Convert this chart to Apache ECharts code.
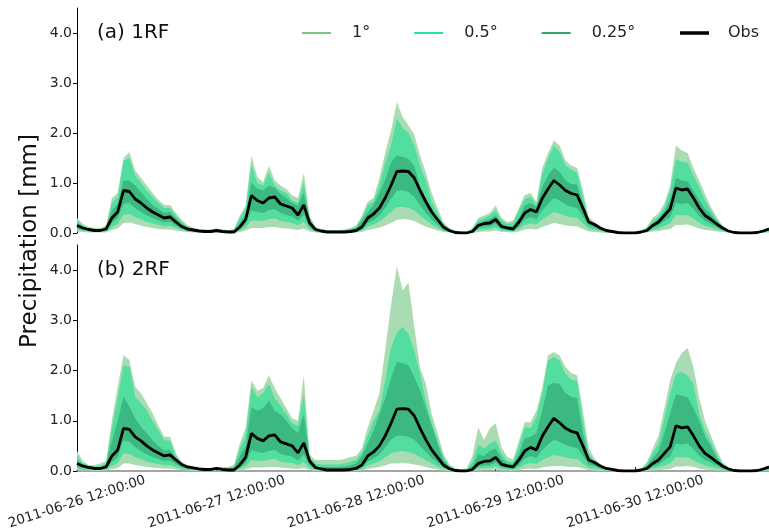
<!DOCTYPE html>
<html>
<head>
<meta charset="utf-8">
<script src="https://cdn.jsdelivr.net/npm/echarts@6/dist/echarts.min.js"></script>
<style>
    html, body { margin: 0; padding: 0; background: #fff; }
    #main { width: 769px; height: 528px; }
</style>
</head>
<body>
<div id="main"></div>
<script>
// hourly values starting 2011-06-26 12:00
var tickLabels = ['2011-06-26 12:00:00', '2011-06-27 12:00:00', '2011-06-28 12:00:00', '2011-06-29 12:00:00', '2011-06-30 12:00:00'];

var obs = [
    0.15,0.10,0.07,0.05,0.05,0.08,0.30,0.42,0.85,0.83,0.68,0.60,0.50,0.42,0.36,0.30,0.32,0.22,0.13,0.08,0.06,0.04,0.03,0.03,
    0.05,0.03,0.02,0.02,0.12,0.27,0.75,0.65,0.60,0.70,0.72,0.58,0.54,0.50,0.36,0.56,0.20,0.07,0.04,0.02,0.02,0.02,0.02,0.03,
    0.05,0.12,0.30,0.38,0.50,0.70,0.95,1.23,1.24,1.23,1.10,0.85,0.62,0.42,0.27,0.12,0.05,0.01,0.00,0.00,0.03,0.15,0.19,0.20,
    0.27,0.13,0.10,0.08,0.22,0.40,0.47,0.42,0.69,0.88,1.05,0.96,0.85,0.79,0.76,0.50,0.22,0.17,0.10,0.05,0.03,0.01,0.00,0.00,
    0.00,0.02,0.05,0.15,0.22,0.35,0.48,0.90,0.86,0.88,0.70,0.50,0.35,0.27,0.18,0.10,0.04,0.01,0.00,0.00,0.00,0.01,0.04,0.08
];

// (a) 1RF ranges
var rf1OuterHi = [
    0.30,0.18,0.12,0.10,0.10,0.15,0.70,0.80,1.50,1.62,1.25,1.10,0.95,0.80,0.66,0.56,0.56,0.40,0.26,0.16,0.10,0.08,0.07,0.07,
    0.09,0.07,0.06,0.08,0.35,0.55,1.55,1.12,1.02,1.34,1.05,0.95,0.88,0.75,0.70,1.20,0.35,0.12,0.08,0.06,0.06,0.06,0.07,0.10,
    0.15,0.35,0.63,0.70,1.10,1.60,2.05,2.62,2.32,2.15,1.97,1.55,1.20,0.80,0.50,0.22,0.10,0.05,0.03,0.03,0.10,0.30,0.35,0.40,
    0.55,0.30,0.22,0.25,0.50,0.76,0.80,0.62,1.30,1.60,1.85,1.75,1.45,1.35,1.30,0.85,0.32,0.22,0.12,0.07,0.05,0.03,0.02,0.02,
    0.02,0.05,0.12,0.30,0.40,0.59,0.95,1.75,1.65,1.60,1.30,1.05,0.78,0.52,0.32,0.15,0.06,0.03,0.02,0.02,0.02,0.03,0.07,0.12
];
var rf1MidHi = [
    0.25,0.15,0.10,0.08,0.08,0.12,0.60,0.72,1.45,1.50,1.15,1.00,0.85,0.72,0.60,0.50,0.50,0.35,0.22,0.13,0.08,0.06,0.05,0.05,
    0.07,0.05,0.05,0.06,0.30,0.48,1.35,1.00,0.95,1.20,0.95,0.85,0.80,0.65,0.60,1.00,0.30,0.10,0.06,0.05,0.05,0.05,0.06,0.08,
    0.12,0.30,0.56,0.63,0.95,1.40,1.76,2.29,2.10,2.00,1.76,1.34,1.05,0.63,0.40,0.18,0.08,0.04,0.02,0.02,0.08,0.25,0.30,0.35,
    0.45,0.25,0.18,0.20,0.45,0.68,0.72,0.56,1.18,1.48,1.75,1.62,1.35,1.27,1.20,0.72,0.26,0.18,0.10,0.06,0.04,0.02,0.01,0.01,
    0.01,0.04,0.10,0.25,0.33,0.50,0.85,1.48,1.42,1.41,1.15,0.93,0.65,0.45,0.27,0.12,0.05,0.02,0.01,0.01,0.01,0.02,0.06,0.10
];
var rf1InnerHi = [
    0.20,0.12,0.08,0.06,0.06,0.10,0.45,0.58,1.05,1.05,0.95,0.82,0.68,0.56,0.48,0.40,0.42,0.30,0.18,0.11,0.07,0.05,0.04,0.04,
    0.06,0.04,0.03,0.04,0.20,0.38,1.00,0.88,0.85,0.95,0.90,0.78,0.70,0.60,0.55,0.80,0.25,0.09,0.05,0.03,0.03,0.03,0.04,0.06,
    0.09,0.25,0.42,0.56,0.80,1.06,1.41,1.55,1.52,1.48,1.34,0.92,0.70,0.50,0.30,0.14,0.06,0.02,0.01,0.01,0.06,0.20,0.24,0.28,
    0.35,0.18,0.14,0.13,0.30,0.55,0.60,0.52,0.92,1.15,1.31,1.22,1.05,0.98,0.97,0.58,0.24,0.16,0.09,0.05,0.03,0.01,0.00,0.00,
    0.00,0.03,0.07,0.18,0.28,0.43,0.66,1.10,1.05,1.03,0.85,0.66,0.48,0.37,0.24,0.13,0.05,0.02,0.00,0.00,0.00,0.01,0.05,0.09
];
var rf1InnerLo = [
    0.10,0.07,0.05,0.03,0.03,0.05,0.20,0.30,0.58,0.60,0.50,0.42,0.35,0.30,0.25,0.21,0.22,0.15,0.09,0.05,0.04,0.03,0.02,0.02,
    0.03,0.02,0.01,0.01,0.08,0.18,0.45,0.42,0.40,0.46,0.48,0.40,0.36,0.33,0.25,0.36,0.13,0.04,0.02,0.01,0.01,0.01,0.01,0.02,
    0.03,0.08,0.20,0.26,0.35,0.50,0.68,0.85,0.85,0.82,0.72,0.55,0.40,0.27,0.17,0.07,0.03,0.00,0.00,0.00,0.02,0.10,0.12,0.13,
    0.18,0.08,0.06,0.05,0.13,0.27,0.32,0.28,0.45,0.58,0.70,0.65,0.57,0.52,0.50,0.32,0.14,0.11,0.06,0.03,0.02,0.00,0.00,0.00,
    0.00,0.01,0.03,0.10,0.15,0.24,0.32,0.60,0.58,0.60,0.48,0.34,0.24,0.18,0.12,0.07,0.03,0.01,0.00,0.00,0.00,0.00,0.03,0.05
];
var rf1MidLo = [
    0.06,0.04,0.03,0.02,0.02,0.03,0.12,0.18,0.36,0.38,0.32,0.27,0.22,0.19,0.16,0.13,0.14,0.10,0.06,0.03,0.02,0.02,0.01,0.01,
    0.02,0.01,0.01,0.01,0.05,0.11,0.25,0.25,0.24,0.28,0.29,0.24,0.22,0.20,0.15,0.22,0.08,0.03,0.01,0.01,0.01,0.01,0.01,0.01,
    0.02,0.05,0.13,0.17,0.23,0.32,0.42,0.52,0.52,0.50,0.45,0.35,0.26,0.17,0.10,0.04,0.02,0.00,0.00,0.00,0.01,0.06,0.07,0.08,
    0.11,0.05,0.04,0.03,0.08,0.16,0.19,0.17,0.27,0.35,0.42,0.39,0.34,0.31,0.30,0.19,0.08,0.06,0.04,0.02,0.01,0.00,0.00,0.00,
    0.00,0.01,0.02,0.06,0.09,0.14,0.19,0.36,0.35,0.36,0.29,0.20,0.14,0.11,0.07,0.04,0.02,0.00,0.00,0.00,0.00,0.00,0.01,0.03
];
var rf1OuterLo = [
    0.03,0.02,0.01,0.01,0.01,0.01,0.06,0.09,0.20,0.21,0.18,0.15,0.12,0.10,0.08,0.07,0.07,0.05,0.03,0.02,0.01,0.01,0.00,0.00,
    0.01,0.00,0.00,0.00,0.02,0.05,0.10,0.10,0.10,0.12,0.12,0.10,0.09,0.08,0.06,0.09,0.03,0.01,0.00,0.00,0.00,0.00,0.00,0.00,
    0.01,0.02,0.06,0.08,0.11,0.15,0.20,0.26,0.28,0.27,0.24,0.18,0.13,0.09,0.05,0.02,0.01,0.00,0.00,0.00,0.00,0.02,0.03,0.03,
    0.05,0.02,0.02,0.01,0.03,0.07,0.08,0.07,0.12,0.16,0.20,0.18,0.15,0.14,0.13,0.08,0.03,0.02,0.01,0.00,0.00,0.00,0.00,0.00,
    0.00,0.00,0.01,0.03,0.04,0.06,0.08,0.16,0.16,0.17,0.13,0.09,0.06,0.05,0.03,0.02,0.01,0.00,0.00,0.00,0.00,0.00,0.00,0.01
];

// (b) 2RF ranges
var rf2OuterHi = [
    0.40,0.20,0.12,0.12,0.15,0.20,1.01,1.68,2.31,2.21,1.68,1.55,1.35,1.15,0.90,0.68,0.68,0.35,0.18,0.12,0.08,0.06,0.05,0.05,
    0.08,0.08,0.08,0.12,0.55,0.85,1.80,1.60,1.65,1.90,1.65,1.45,1.25,1.05,1.00,1.90,0.33,0.22,0.22,0.22,0.22,0.22,0.24,0.28,
    0.30,0.45,0.87,1.20,1.55,2.40,3.30,4.07,3.60,3.75,2.87,2.05,1.73,1.13,0.75,0.35,0.14,0.06,0.03,0.05,0.30,0.87,0.62,0.85,
    0.95,0.47,0.28,0.23,0.60,0.97,0.97,1.20,1.65,2.30,2.37,2.30,2.07,1.95,1.90,1.20,0.45,0.25,0.12,0.07,0.04,0.02,0.01,0.01,
    0.01,0.05,0.18,0.45,0.70,1.25,1.80,2.15,2.35,2.45,2.07,1.45,1.00,0.70,0.42,0.18,0.08,0.04,0.02,0.02,0.02,0.03,0.07,0.12
];
var rf2MidHi = [
    0.30,0.15,0.10,0.09,0.10,0.15,0.85,1.45,2.10,2.08,1.48,1.35,1.21,1.00,0.80,0.61,0.60,0.30,0.15,0.10,0.07,0.05,0.04,0.04,
    0.06,0.06,0.06,0.09,0.45,0.70,1.67,1.47,1.55,1.73,1.45,1.30,1.13,0.95,0.90,1.53,0.27,0.15,0.13,0.13,0.13,0.13,0.15,0.18,
    0.22,0.38,0.70,1.00,1.20,1.80,2.45,2.75,2.87,2.73,2.40,1.93,1.40,0.95,0.62,0.28,0.10,0.04,0.02,0.03,0.18,0.53,0.45,0.55,
    0.60,0.35,0.20,0.18,0.50,0.87,0.85,1.07,1.55,2.20,2.27,2.20,1.93,1.82,1.78,1.00,0.35,0.20,0.10,0.05,0.03,0.01,0.00,0.00,
    0.01,0.04,0.14,0.35,0.55,1.05,1.55,1.93,1.97,1.90,1.73,1.13,0.80,0.58,0.33,0.14,0.06,0.03,0.01,0.01,0.01,0.02,0.06,0.10
];
var rf2InnerHi = [
    0.22,0.12,0.08,0.07,0.08,0.12,0.60,1.00,1.48,1.28,1.05,0.88,0.75,0.61,0.50,0.41,0.42,0.26,0.14,0.09,0.06,0.04,0.03,0.03,
    0.04,0.04,0.04,0.06,0.30,0.50,1.27,1.20,1.25,1.40,1.20,1.13,1.00,0.85,0.75,1.13,0.20,0.09,0.08,0.08,0.08,0.08,0.09,0.11,
    0.15,0.30,0.55,0.80,1.13,1.45,1.85,2.17,2.15,2.10,1.87,1.60,1.25,0.90,0.55,0.22,0.08,0.03,0.01,0.02,0.10,0.33,0.30,0.40,
    0.45,0.25,0.15,0.13,0.35,0.65,0.68,0.75,1.20,1.70,1.75,1.73,1.55,1.48,1.45,0.75,0.28,0.16,0.08,0.04,0.02,0.01,0.00,0.00,
    0.00,0.03,0.10,0.25,0.40,0.75,1.15,1.53,1.50,1.47,1.25,1.00,0.68,0.50,0.28,0.12,0.05,0.02,0.00,0.00,0.00,0.01,0.05,0.09
];
var rf2InnerLo = [
    0.09,0.06,0.04,0.03,0.03,0.05,0.18,0.28,0.61,0.58,0.48,0.40,0.33,0.28,0.24,0.20,0.21,0.14,0.08,0.05,0.03,0.02,0.02,0.02,
    0.03,0.02,0.01,0.01,0.07,0.16,0.42,0.38,0.36,0.40,0.42,0.34,0.31,0.29,0.21,0.33,0.12,0.04,0.02,0.01,0.01,0.01,0.01,0.02,
    0.03,0.08,0.19,0.25,0.33,0.47,0.62,0.70,0.70,0.68,0.62,0.50,0.38,0.26,0.17,0.07,0.03,0.00,0.00,0.00,0.02,0.09,0.11,0.12,
    0.17,0.08,0.06,0.05,0.12,0.25,0.30,0.26,0.42,0.53,0.62,0.58,0.52,0.48,0.46,0.30,0.13,0.10,0.06,0.03,0.02,0.00,0.00,0.00,
    0.00,0.01,0.03,0.09,0.13,0.22,0.29,0.55,0.53,0.55,0.44,0.31,0.22,0.17,0.11,0.06,0.02,0.00,0.00,0.00,0.00,0.00,0.02,0.05
];
var rf2MidLo = [
    0.05,0.03,0.02,0.02,0.02,0.03,0.10,0.16,0.35,0.34,0.28,0.24,0.19,0.16,0.14,0.11,0.12,0.08,0.04,0.02,0.02,0.01,0.01,0.01,
    0.02,0.01,0.00,0.00,0.04,0.09,0.22,0.21,0.20,0.23,0.24,0.19,0.17,0.16,0.12,0.18,0.06,0.02,0.01,0.00,0.00,0.00,0.00,0.01,
    0.02,0.04,0.11,0.15,0.19,0.27,0.36,0.38,0.40,0.38,0.34,0.28,0.22,0.15,0.09,0.04,0.01,0.00,0.00,0.00,0.01,0.05,0.06,0.06,
    0.09,0.04,0.03,0.02,0.06,0.13,0.16,0.14,0.22,0.27,0.32,0.30,0.27,0.25,0.24,0.15,0.06,0.05,0.03,0.01,0.01,0.00,0.00,0.00,
    0.00,0.00,0.02,0.05,0.07,0.11,0.15,0.28,0.27,0.28,0.22,0.16,0.11,0.08,0.05,0.03,0.01,0.00,0.00,0.00,0.00,0.00,0.01,0.02
];
var rf2OuterLo = [
    0.02,0.01,0.01,0.00,0.00,0.01,0.04,0.06,0.15,0.15,0.12,0.10,0.08,0.07,0.06,0.05,0.05,0.03,0.02,0.01,0.00,0.00,0.00,0.00,
    0.01,0.00,0.00,0.00,0.01,0.03,0.07,0.07,0.07,0.08,0.08,0.07,0.06,0.05,0.04,0.06,0.02,0.00,0.00,0.00,0.00,0.00,0.00,0.00,
    0.00,0.01,0.04,0.06,0.08,0.11,0.15,0.15,0.16,0.15,0.13,0.11,0.08,0.05,0.03,0.01,0.00,0.00,0.00,0.00,0.00,0.01,0.02,0.02,
    0.03,0.01,0.01,0.00,0.02,0.04,0.05,0.04,0.07,0.09,0.10,0.10,0.09,0.08,0.08,0.05,0.02,0.01,0.00,0.00,0.00,0.00,0.00,0.00,
    0.00,0.00,0.00,0.01,0.02,0.03,0.04,0.09,0.09,0.10,0.08,0.05,0.03,0.02,0.01,0.01,0.00,0.00,0.00,0.00,0.00,0.00,0.00,0.00
];

var font = '"DejaVu Sans", sans-serif';
var bandColors = { outer: '#a9dcb2', mid: '#53de9f', inner: '#3cb881' };

// one category per hour, label shown every 24 h
var hours = obs.map(function (v, i) { return i; });

var chart = echarts.init(document.getElementById('main'));

function band(name, lo, hi, color, idx) {
    var stack = name + '_' + idx;
    var common = {
        name: name,
        type: 'line',
        xAxisIndex: idx,
        yAxisIndex: idx,
        stack: stack,
        symbol: 'none',
        silent: true,
        lineStyle: { opacity: 0 }
    };
    return [
        Object.assign({}, common, { data: lo }),
        Object.assign({}, common, {
            data: hi.map(function (v, i) { return Math.max(0, v - lo[i]); }),
            areaStyle: { color: color, opacity: 1 }
        })
    ];
}

function obsLine(idx) {
    return {
        name: 'Obs',
        type: 'line',
        xAxisIndex: idx,
        yAxisIndex: idx,
        symbol: 'none',
        silent: true,
        z: 5,
        data: obs,
        lineStyle: { color: '#000', width: 2.8 }
    };
}

function yAxis(idx) {
    return {
        type: 'value',
        gridIndex: idx,
        min: 0,
        max: 4.5,
        interval: 1,
        axisLine: { show: true, lineStyle: { color: '#000', width: 1 } },
        axisTick: { show: true, length: 4, customValues: [0, 1, 2, 3, 4], lineStyle: { color: '#000' } },
        axisLabel: {
            customValues: [0, 1, 2, 3, 4],
            formatter: function (v) { return v.toFixed(1); },
            fontFamily: font, fontSize: 14, color: '#222', margin: 5
        },
        splitLine: { show: false }
    };
}

function everyDay(i) { return i % 24 === 0; }

var series = [];
series = series.concat(band('1°', rf1OuterLo, rf1OuterHi, bandColors.outer, 0));
series = series.concat(band('0.5°', rf1MidLo, rf1MidHi, bandColors.mid, 0));
series = series.concat(band('0.25°', rf1InnerLo, rf1InnerHi, bandColors.inner, 0));
series.push(obsLine(0));
series = series.concat(band('1°', rf2OuterLo, rf2OuterHi, bandColors.outer, 1));
series = series.concat(band('0.5°', rf2MidLo, rf2MidHi, bandColors.mid, 1));
series = series.concat(band('0.25°', rf2InnerLo, rf2InnerHi, bandColors.inner, 1));
series.push(obsLine(1));

var option = {
    animation: false,
    backgroundColor: '#fff',
    grid: [
        { left: 77, right: 0, top: 8, height: 225, outerBoundsMode: 'none' },
        { left: 77, right: 0, top: 245, height: 226, outerBoundsMode: 'none' }
    ],
    xAxis: [
        { type: 'category', gridIndex: 0, data: hours, boundaryGap: false, show: false },
        {
            type: 'category',
            gridIndex: 1,
            data: hours,
            boundaryGap: false,
            axisLine: { show: true, lineStyle: { color: '#888', width: 1.5 } },
            axisTick: { show: true, inside: true, length: 4, interval: everyDay, lineStyle: { color: '#222' } },
            axisLabel: {
                interval: everyDay,
                formatter: function (v, i) { return tickLabels[Math.round(i / 24)]; },
                rotate: 18,
                align: 'center',
                verticalAlign: 'middle',
                margin: 31,
                fontFamily: font, fontSize: 13.5, color: '#222'
            },
            splitLine: { show: false }
        }
    ],
    yAxis: [yAxis(0), yAxis(1)],
    legend: [
        {
            left: 302, top: 25, padding: 0,
            itemWidth: 29, itemHeight: 2, itemGap: 44,
            icon: 'rect',
            selectedMode: false,
            textStyle: { fontFamily: font, fontSize: 16, color: '#222', padding: [0, 0, 0, 16] },
            data: [
                { name: '1°', itemStyle: { color: '#7bc77b' } },
                { name: '0.5°', itemStyle: { color: '#22e396' } },
                { name: '0.25°', itemStyle: { color: '#2eaa6c' } }
            ]
        },
        {
            left: 680, top: 25, padding: 0,
            itemWidth: 29, itemHeight: 3.5,
            icon: 'rect',
            selectedMode: false,
            textStyle: { fontFamily: font, fontSize: 16, color: '#222', padding: [0, 0, 0, 14] },
            data: [{ name: 'Obs', itemStyle: { color: '#000' } }]
        }
    ],
    graphic: [
        { type: 'text', left: 97, top: 23, z: 100, style: { text: '(a) 1RF', font: '20px ' + font, fill: '#111' } },
        { type: 'text', left: 97, top: 260, z: 100, style: { text: '(b) 2RF', font: '20px ' + font, fill: '#111' } },
        {
            type: 'text', x: 30, y: 241, rotation: Math.PI / 2,
            style: { text: 'Precipitation [mm]', font: '23px ' + font, fill: '#111', align: 'center', verticalAlign: 'middle' }
        }
    ],
    series: series
};

option && chart.setOption(option);
</script>
</body>
</html>
